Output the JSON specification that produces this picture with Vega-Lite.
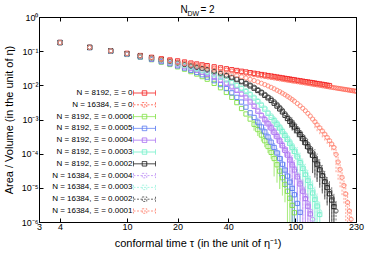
{
"$schema": "https://vega.github.io/schema/vega-lite/v6.json",
"width": 317, "height": 205,
"autosize": {"type": "none"},
"padding": {"left": 39, "top": 17, "right": 10, "bottom": 31},
"data": {"values": [
{"s":"a","t":4,"v":0.18},{"s":"a","t":6,"v":0.13},{"s":"a","t":8,"v":0.103},{"s":"a","t":10,"v":0.0865},{"s":"a","t":12,"v":0.0746},{"s":"a","t":14,"v":0.0661},{"s":"a","t":16,"v":0.06},{"s":"a","t":18,"v":0.0552},{"s":"a","t":20,"v":0.052},{"s":"a","t":22,"v":0.0482},{"s":"a","t":24,"v":0.0449},{"s":"a","t":26,"v":0.0422},{"s":"a","t":28,"v":0.0397},{"s":"a","t":30,"v":0.0376},{"s":"a","t":33,"v":0.0348},{"s":"a","t":36,"v":0.0325},{"s":"a","t":39,"v":0.0305},{"s":"a","t":42,"v":0.0287},{"s":"a","t":45,"v":0.0272},{"s":"a","t":48,"v":0.0258},{"s":"a","t":51,"v":0.0246},{"s":"a","t":54,"v":0.0235},{"s":"a","t":57,"v":0.0225},{"s":"a","t":60,"v":0.0216},{"s":"a","t":63,"v":0.0207},{"s":"a","t":66,"v":0.02},{"s":"a","t":69,"v":0.0193},{"s":"a","t":72,"v":0.0187},{"s":"a","t":75,"v":0.0181},{"s":"a","t":78,"v":0.0175},{"s":"a","t":81,"v":0.017},{"s":"a","t":84,"v":0.0165},{"s":"a","t":87,"v":0.016},{"s":"a","t":90,"v":0.0156},{"s":"a","t":93,"v":0.0152},{"s":"a","t":96,"v":0.0148},{"s":"a","t":99,"v":0.0145},{"s":"a","t":103,"v":0.014},{"s":"a","t":107,"v":0.0136},{"s":"a","t":111,"v":0.0132},{"s":"a","t":115,"v":0.0128},{"s":"a","t":119,"v":0.0125},{"s":"a","t":123,"v":0.0122},{"s":"a","t":127,"v":0.0119},{"s":"a","t":131,"v":0.0116},{"s":"a","t":135,"v":0.0113},{"s":"a","t":140,"v":0.011},{"s":"a","t":145,"v":0.0107},{"s":"a","t":150,"v":0.0104},{"s":"a","t":155,"v":0.0101},{"s":"a","t":160,"v":0.00984},
{"s":"b","t":4,"v":0.178},{"s":"b","t":6,"v":0.128},{"s":"b","t":8,"v":0.102},{"s":"b","t":10,"v":0.0855},{"s":"b","t":12,"v":0.0738},{"s":"b","t":14,"v":0.0653},{"s":"b","t":16,"v":0.0586},{"s":"b","t":18,"v":0.0534},{"s":"b","t":20,"v":0.0485},{"s":"b","t":22,"v":0.045},{"s":"b","t":24,"v":0.0419},{"s":"b","t":26,"v":0.0394},{"s":"b","t":28,"v":0.0371},{"s":"b","t":30,"v":0.0347},{"s":"b","t":33,"v":0.0318},{"s":"b","t":36,"v":0.0296},{"s":"b","t":39,"v":0.0278},{"s":"b","t":42,"v":0.0262},{"s":"b","t":45,"v":0.0248},{"s":"b","t":48,"v":0.0236},{"s":"b","t":51,"v":0.0224},{"s":"b","t":54,"v":0.0214},{"s":"b","t":57,"v":0.0205},{"s":"b","t":60,"v":0.0197},{"s":"b","t":63,"v":0.0189},{"s":"b","t":66,"v":0.0182},{"s":"b","t":69,"v":0.0176},{"s":"b","t":72,"v":0.017},{"s":"b","t":75,"v":0.0165},{"s":"b","t":78,"v":0.016},{"s":"b","t":81,"v":0.0155},{"s":"b","t":84,"v":0.015},{"s":"b","t":87,"v":0.0146},{"s":"b","t":90,"v":0.0142},{"s":"b","t":93,"v":0.0139},{"s":"b","t":96,"v":0.0135},{"s":"b","t":99,"v":0.0132},{"s":"b","t":103,"v":0.0128},{"s":"b","t":107,"v":0.0124},{"s":"b","t":111,"v":0.012},{"s":"b","t":115,"v":0.0117},{"s":"b","t":119,"v":0.0114},{"s":"b","t":123,"v":0.0111},{"s":"b","t":127,"v":0.0108},{"s":"b","t":131,"v":0.0105},{"s":"b","t":135,"v":0.0103},{"s":"b","t":140,"v":0.01},{"s":"b","t":145,"v":0.00973},{"s":"b","t":150,"v":0.00946},{"s":"b","t":155,"v":0.0092},{"s":"b","t":160,"v":0.00897},{"s":"b","t":165,"v":0.00877},{"s":"b","t":170,"v":0.00855},{"s":"b","t":175,"v":0.00836},{"s":"b","t":180,"v":0.00817},{"s":"b","t":185,"v":0.008},{"s":"b","t":190,"v":0.00783},{"s":"b","t":195,"v":0.00767},{"s":"b","t":200,"v":0.00752},{"s":"b","t":205,"v":0.00737},{"s":"b","t":210,"v":0.00723},{"s":"b","t":215,"v":0.0071},{"s":"b","t":220,"v":0.00697},{"s":"b","t":225,"v":0.00684},{"s":"b","t":230,"v":0.00671},
{"s":"c","t":4,"v":0.178},{"s":"c","t":6,"v":0.127},{"s":"c","t":8,"v":0.0984},{"s":"c","t":10,"v":0.08},{"s":"c","t":12,"v":0.0665},{"s":"c","t":14,"v":0.0562},{"s":"c","t":16,"v":0.0476},{"s":"c","t":18,"v":0.0407},{"s":"c","t":20,"v":0.0348},{"s":"c","t":22,"v":0.0297},{"s":"c","t":24,"v":0.0252},{"s":"c","t":26,"v":0.0214},{"s":"c","t":28,"v":0.018},{"s":"c","t":30,"v":0.0151},{"s":"c","t":33,"v":0.0114},{"s":"c","t":36,"v":0.00851},{"s":"c","t":39,"v":0.00619},{"s":"c","t":42,"v":0.00445},{"s":"c","t":45,"v":0.00312},{"s":"c","t":48,"v":0.0021},{"s":"c","t":51,"v":0.00145},{"s":"c","t":54,"v":0.00103},
{"s":"c","t":57,"v":7.24e-4,"lo":4.71e-4,"hi":9.77e-4},{"s":"c","t":60,"v":5.06e-4,"lo":3.29e-4,"hi":6.83e-4},{"s":"c","t":63,"v":3.5e-4,"lo":2.28e-4,"hi":4.73e-4},{"s":"c","t":66,"v":2.39e-4,"lo":1.55e-4,"hi":3.23e-4},{"s":"c","t":69,"v":1.62e-4,"lo":1.05e-4,"hi":2.19e-4},{"s":"c","t":72,"v":1.09e-4,"lo":7.09e-5,"hi":1.47e-4},{"s":"c","t":75,"v":7.21e-5,"lo":2.16e-5,"hi":1.23e-4},{"s":"c","t":78,"v":4.73e-5,"lo":1.42e-5,"hi":8.04e-5},{"s":"c","t":81,"v":3.08e-5,"lo":9.24e-6,"hi":5.24e-5},{"s":"c","t":84,"v":1.98e-5,"lo":5.94e-6,"hi":3.37e-5},{"s":"c","t":87,"v":1.26e-5,"lo":3.78e-6,"hi":2.14e-5},{"s":"c","t":90,"v":7.94e-6,"lo":6.35e-7,"hi":1.59e-5},{"s":"c","t":93,"v":4.97e-6,"lo":3.98e-7,"hi":9.94e-6},{"s":"c","t":96,"v":3.06e-6,"lo":2.45e-7,"hi":6.12e-6},{"s":"c","t":99,"v":1.87e-6,"lo":1.5e-7,"hi":3.74e-6},
{"s":"d","t":4,"v":0.178},{"s":"d","t":6,"v":0.127},{"s":"d","t":8,"v":0.0993},{"s":"d","t":10,"v":0.0809},{"s":"d","t":12,"v":0.0678},{"s":"d","t":14,"v":0.0577},{"s":"d","t":16,"v":0.0494},{"s":"d","t":18,"v":0.0427},{"s":"d","t":20,"v":0.037},{"s":"d","t":22,"v":0.032},{"s":"d","t":24,"v":0.0275},{"s":"d","t":26,"v":0.0238},{"s":"d","t":28,"v":0.0204},{"s":"d","t":30,"v":0.0174},{"s":"d","t":33,"v":0.0137},{"s":"d","t":36,"v":0.0105},{"s":"d","t":39,"v":0.00805},{"s":"d","t":42,"v":0.00603},{"s":"d","t":45,"v":0.00445},{"s":"d","t":48,"v":0.00324},{"s":"d","t":51,"v":0.0023},{"s":"d","t":54,"v":0.00157},{"s":"d","t":57,"v":0.00115},
{"s":"d","t":60,"v":8.36e-4,"lo":5.43e-4,"hi":1.13e-3},{"s":"d","t":63,"v":6.05e-4,"lo":3.93e-4,"hi":8.17e-4},{"s":"d","t":66,"v":4.33e-4,"lo":2.81e-4,"hi":5.85e-4},{"s":"d","t":69,"v":3.08e-4,"lo":2.0e-4,"hi":4.16e-4},{"s":"d","t":72,"v":2.17e-4,"lo":1.41e-4,"hi":2.93e-4},{"s":"d","t":75,"v":1.52e-4,"lo":9.88e-5,"hi":2.05e-4},{"s":"d","t":78,"v":1.05e-4,"lo":6.83e-5,"hi":1.42e-4},{"s":"d","t":81,"v":7.19e-5,"lo":2.16e-5,"hi":1.22e-4},{"s":"d","t":84,"v":4.9e-5,"lo":1.47e-5,"hi":8.33e-5},{"s":"d","t":87,"v":3.31e-5,"lo":9.93e-6,"hi":5.63e-5},{"s":"d","t":90,"v":2.21e-5,"lo":6.63e-6,"hi":3.76e-5},{"s":"d","t":93,"v":1.47e-5,"lo":4.41e-6,"hi":2.5e-5},{"s":"d","t":96,"v":9.64e-6,"lo":7.71e-7,"hi":1.93e-5},{"s":"d","t":99,"v":6.27e-6,"lo":5.02e-7,"hi":1.25e-5},{"s":"d","t":103,"v":3.5e-6,"lo":2.8e-7,"hi":7.0e-6},{"s":"d","t":107,"v":1.92e-6,"lo":1.54e-7,"hi":3.84e-6},
{"s":"e","t":4,"v":0.179},{"s":"e","t":6,"v":0.128},{"s":"e","t":8,"v":0.1},{"s":"e","t":10,"v":0.0824},{"s":"e","t":12,"v":0.0695},{"s":"e","t":14,"v":0.0597},{"s":"e","t":16,"v":0.0519},{"s":"e","t":18,"v":0.0454},{"s":"e","t":20,"v":0.0399},{"s":"e","t":22,"v":0.0352},{"s":"e","t":24,"v":0.031},{"s":"e","t":26,"v":0.0274},{"s":"e","t":28,"v":0.024},{"s":"e","t":30,"v":0.0211},{"s":"e","t":33,"v":0.0173},{"s":"e","t":36,"v":0.014},{"s":"e","t":39,"v":0.0113},{"s":"e","t":42,"v":0.009},{"s":"e","t":45,"v":0.00711},{"s":"e","t":48,"v":0.00553},{"s":"e","t":51,"v":0.00427},{"s":"e","t":54,"v":0.00324},{"s":"e","t":57,"v":0.00243},{"s":"e","t":60,"v":0.00175},{"s":"e","t":63,"v":0.00129},
{"s":"e","t":66,"v":9.86e-4,"lo":6.41e-4,"hi":1.33e-3},{"s":"e","t":69,"v":7.48e-4,"lo":4.86e-4,"hi":1.01e-3},{"s":"e","t":72,"v":5.65e-4,"lo":3.67e-4,"hi":7.63e-4},{"s":"e","t":75,"v":4.24e-4,"lo":2.76e-4,"hi":5.72e-4},{"s":"e","t":78,"v":3.16e-4,"lo":2.05e-4,"hi":4.27e-4},{"s":"e","t":81,"v":2.33e-4,"lo":1.51e-4,"hi":3.15e-4},{"s":"e","t":84,"v":1.71e-4,"lo":1.11e-4,"hi":2.31e-4},{"s":"e","t":87,"v":1.25e-4,"lo":8.13e-5,"hi":1.69e-4},{"s":"e","t":90,"v":9.08e-5,"lo":2.72e-5,"hi":1.54e-4},{"s":"e","t":93,"v":6.55e-5,"lo":1.97e-5,"hi":1.11e-4},{"s":"e","t":96,"v":4.69e-5,"lo":1.41e-5,"hi":7.97e-5},{"s":"e","t":99,"v":3.33e-5,"lo":9.99e-6,"hi":5.66e-5},{"s":"e","t":103,"v":2.09e-5,"lo":6.27e-6,"hi":3.55e-5},{"s":"e","t":107,"v":1.3e-5,"lo":3.9e-6,"hi":2.21e-5},{"s":"e","t":111,"v":8.0e-6,"lo":6.4e-7,"hi":1.6e-5},{"s":"e","t":115,"v":4.86e-6,"lo":3.89e-7,"hi":9.72e-6},{"s":"e","t":119,"v":2.91e-6,"lo":2.33e-7,"hi":5.82e-6},{"s":"e","t":123,"v":1.73e-6,"lo":1.38e-7,"hi":3.46e-6},
{"s":"f","t":4,"v":0.179},{"s":"f","t":6,"v":0.129},{"s":"f","t":8,"v":0.101},{"s":"f","t":10,"v":0.0834},{"s":"f","t":12,"v":0.0708},{"s":"f","t":14,"v":0.0614},{"s":"f","t":16,"v":0.0536},{"s":"f","t":18,"v":0.0474},{"s":"f","t":20,"v":0.0423},{"s":"f","t":22,"v":0.0377},{"s":"f","t":24,"v":0.0337},{"s":"f","t":26,"v":0.0302},{"s":"f","t":28,"v":0.027},{"s":"f","t":30,"v":0.0242},{"s":"f","t":33,"v":0.0204},{"s":"f","t":36,"v":0.0172},{"s":"f","t":39,"v":0.0144},{"s":"f","t":42,"v":0.012},{"s":"f","t":45,"v":0.00986},{"s":"f","t":48,"v":0.00809},{"s":"f","t":51,"v":0.00659},{"s":"f","t":54,"v":0.0053},{"s":"f","t":57,"v":0.00424},{"s":"f","t":60,"v":0.00334},{"s":"f","t":63,"v":0.00261},{"s":"f","t":66,"v":0.00202},{"s":"f","t":69,"v":0.00152},{"s":"f","t":72,"v":0.00116},
{"s":"f","t":75,"v":9.18e-4,"lo":5.97e-4,"hi":1.24e-3},{"s":"f","t":78,"v":7.21e-4,"lo":4.69e-4,"hi":9.73e-4},{"s":"f","t":81,"v":5.64e-4,"lo":3.67e-4,"hi":7.61e-4},{"s":"f","t":84,"v":4.4e-4,"lo":2.86e-4,"hi":5.94e-4},{"s":"f","t":87,"v":3.4e-4,"lo":2.21e-4,"hi":4.59e-4},{"s":"f","t":90,"v":2.63e-4,"lo":1.71e-4,"hi":3.55e-4},{"s":"f","t":93,"v":2.02e-4,"lo":1.31e-4,"hi":2.73e-4},{"s":"f","t":96,"v":1.54e-4,"lo":1.0e-4,"hi":2.08e-4},{"s":"f","t":99,"v":1.17e-4,"lo":7.61e-5,"hi":1.58e-4},{"s":"f","t":103,"v":8.05e-5,"lo":2.42e-5,"hi":1.37e-4},{"s":"f","t":107,"v":5.48e-5,"lo":1.64e-5,"hi":9.32e-5},{"s":"f","t":111,"v":3.71e-5,"lo":1.11e-5,"hi":6.31e-5},{"s":"f","t":115,"v":2.48e-5,"lo":7.44e-6,"hi":4.22e-5},{"s":"f","t":119,"v":1.65e-5,"lo":4.95e-6,"hi":2.81e-5},{"s":"f","t":123,"v":1.09e-5,"lo":3.27e-6,"hi":1.85e-5},{"s":"f","t":127,"v":7.08e-6,"lo":5.66e-7,"hi":1.42e-5},{"s":"f","t":131,"v":4.58e-6,"lo":3.66e-7,"hi":9.16e-6},{"s":"f","t":135,"v":2.93e-6,"lo":2.34e-7,"hi":5.86e-6},{"s":"f","t":140,"v":1.66e-6,"lo":1.33e-7,"hi":3.32e-6},
{"s":"g","t":4,"v":0.179},{"s":"g","t":6,"v":0.129},{"s":"g","t":8,"v":0.102},{"s":"g","t":10,"v":0.0847},{"s":"g","t":12,"v":0.0723},{"s":"g","t":14,"v":0.0632},{"s":"g","t":16,"v":0.0558},{"s":"g","t":18,"v":0.05},{"s":"g","t":20,"v":0.0451},{"s":"g","t":22,"v":0.0409},{"s":"g","t":24,"v":0.0372},{"s":"g","t":26,"v":0.034},{"s":"g","t":28,"v":0.031},{"s":"g","t":30,"v":0.0284},{"s":"g","t":33,"v":0.025},{"s":"g","t":36,"v":0.0219},{"s":"g","t":39,"v":0.0192},{"s":"g","t":42,"v":0.0168},{"s":"g","t":45,"v":0.0147},{"s":"g","t":48,"v":0.0128},{"s":"g","t":51,"v":0.0111},{"s":"g","t":54,"v":0.00962},{"s":"g","t":57,"v":0.00826},{"s":"g","t":60,"v":0.00706},{"s":"g","t":63,"v":0.00603},{"s":"g","t":66,"v":0.00511},{"s":"g","t":69,"v":0.00431},{"s":"g","t":72,"v":0.00361},{"s":"g","t":75,"v":0.003},{"s":"g","t":78,"v":0.00248},{"s":"g","t":81,"v":0.00204},{"s":"g","t":84,"v":0.00167},{"s":"g","t":87,"v":0.00133},{"s":"g","t":90,"v":0.00107},
{"s":"g","t":93,"v":8.79e-4,"lo":5.71e-4,"hi":1.19e-3},{"s":"g","t":96,"v":7.31e-4,"lo":4.75e-4,"hi":9.87e-4},{"s":"g","t":99,"v":6.04e-4,"lo":3.93e-4,"hi":8.15e-4},{"s":"g","t":103,"v":4.68e-4,"lo":3.04e-4,"hi":6.32e-4},{"s":"g","t":107,"v":3.61e-4,"lo":2.35e-4,"hi":4.87e-4},{"s":"g","t":111,"v":2.75e-4,"lo":1.79e-4,"hi":3.71e-4},{"s":"g","t":115,"v":2.1e-4,"lo":1.37e-4,"hi":2.84e-4},{"s":"g","t":119,"v":1.59e-4,"lo":1.03e-4,"hi":2.15e-4},{"s":"g","t":123,"v":1.2e-4,"lo":7.8e-5,"hi":1.62e-4},{"s":"g","t":127,"v":8.99e-5,"lo":2.7e-5,"hi":1.53e-4},{"s":"g","t":131,"v":6.68e-5,"lo":2.0e-5,"hi":1.14e-4},{"s":"g","t":135,"v":4.94e-5,"lo":1.48e-5,"hi":8.4e-5},{"s":"g","t":140,"v":3.38e-5,"lo":1.01e-5,"hi":5.75e-5},{"s":"g","t":145,"v":2.29e-5,"lo":6.87e-6,"hi":3.89e-5},{"s":"g","t":150,"v":1.53e-5,"lo":4.59e-6,"hi":2.6e-5},{"s":"g","t":155,"v":1.02e-5,"lo":3.06e-6,"hi":1.73e-5},{"s":"g","t":160,"v":6.7e-6,"lo":5.36e-7,"hi":1.34e-5},{"s":"g","t":165,"v":4.39e-6,"lo":3.51e-7,"hi":8.78e-6},{"s":"g","t":170,"v":2.84e-6,"lo":2.27e-7,"hi":5.68e-6},
{"s":"h","t":4,"v":0.179},{"s":"h","t":6,"v":0.128},{"s":"h","t":8,"v":0.1},{"s":"h","t":10,"v":0.0824},{"s":"h","t":12,"v":0.0695},{"s":"h","t":14,"v":0.0597},{"s":"h","t":16,"v":0.0519},{"s":"h","t":18,"v":0.0454},{"s":"h","t":20,"v":0.0399},{"s":"h","t":22,"v":0.0352},{"s":"h","t":24,"v":0.031},{"s":"h","t":26,"v":0.0274},{"s":"h","t":28,"v":0.024},{"s":"h","t":30,"v":0.0218},{"s":"h","t":33,"v":0.0179},{"s":"h","t":36,"v":0.0145},{"s":"h","t":39,"v":0.0117},{"s":"h","t":42,"v":0.00932},{"s":"h","t":45,"v":0.00736},{"s":"h","t":48,"v":0.00572},{"s":"h","t":51,"v":0.00457},{"s":"h","t":54,"v":0.00347},{"s":"h","t":57,"v":0.0026},{"s":"h","t":60,"v":0.00187},{"s":"h","t":63,"v":0.00138},{"s":"h","t":66,"v":0.00106},
{"s":"h","t":69,"v":8.0e-4,"lo":5.2e-4,"hi":1.08e-3},{"s":"h","t":72,"v":6.33e-4,"lo":4.11e-4,"hi":8.55e-4},{"s":"h","t":75,"v":4.75e-4,"lo":3.09e-4,"hi":6.41e-4},{"s":"h","t":78,"v":3.54e-4,"lo":2.3e-4,"hi":4.78e-4},{"s":"h","t":81,"v":2.61e-4,"lo":1.7e-4,"hi":3.52e-4},{"s":"h","t":84,"v":1.92e-4,"lo":1.25e-4,"hi":2.59e-4},{"s":"h","t":87,"v":1.4e-4,"lo":9.1e-5,"hi":1.89e-4},{"s":"h","t":90,"v":1.02e-4,"lo":6.63e-5,"hi":1.38e-4},{"s":"h","t":93,"v":7.53e-5,"lo":2.26e-5,"hi":1.28e-4},{"s":"h","t":96,"v":5.39e-5,"lo":1.62e-5,"hi":9.16e-5},{"s":"h","t":99,"v":3.83e-5,"lo":1.15e-5,"hi":6.51e-5},{"s":"h","t":103,"v":2.4e-5,"lo":7.2e-6,"hi":4.08e-5},{"s":"h","t":107,"v":1.5e-5,"lo":4.5e-6,"hi":2.55e-5},{"s":"h","t":111,"v":9.2e-6,"lo":7.36e-7,"hi":1.84e-5},{"s":"h","t":115,"v":5.83e-6,"lo":4.66e-7,"hi":1.17e-5},{"s":"h","t":119,"v":3.49e-6,"lo":2.79e-7,"hi":6.98e-6},{"s":"h","t":123,"v":2.08e-6,"lo":1.66e-7,"hi":4.16e-6},{"s":"h","t":127,"v":1.2e-6,"lo":9.6e-8,"hi":2.4e-6},
{"s":"i","t":4,"v":0.179},{"s":"i","t":6,"v":0.129},{"s":"i","t":8,"v":0.101},{"s":"i","t":10,"v":0.0834},{"s":"i","t":12,"v":0.0708},{"s":"i","t":14,"v":0.0614},{"s":"i","t":16,"v":0.0536},{"s":"i","t":18,"v":0.0474},{"s":"i","t":20,"v":0.0423},{"s":"i","t":22,"v":0.0377},{"s":"i","t":24,"v":0.0337},{"s":"i","t":26,"v":0.0302},{"s":"i","t":28,"v":0.027},{"s":"i","t":30,"v":0.025},{"s":"i","t":33,"v":0.0211},{"s":"i","t":36,"v":0.0178},{"s":"i","t":39,"v":0.0149},{"s":"i","t":42,"v":0.0124},{"s":"i","t":45,"v":0.0102},{"s":"i","t":48,"v":0.00837},{"s":"i","t":51,"v":0.00705},{"s":"i","t":54,"v":0.00567},{"s":"i","t":57,"v":0.00454},{"s":"i","t":60,"v":0.00357},{"s":"i","t":63,"v":0.00279},{"s":"i","t":66,"v":0.00216},{"s":"i","t":69,"v":0.00163},{"s":"i","t":72,"v":0.0013},{"s":"i","t":75,"v":0.00103},
{"s":"i","t":78,"v":8.08e-4,"lo":5.25e-4,"hi":1.09e-3},{"s":"i","t":81,"v":6.32e-4,"lo":4.11e-4,"hi":8.53e-4},{"s":"i","t":84,"v":4.93e-4,"lo":3.2e-4,"hi":6.66e-4},{"s":"i","t":87,"v":3.81e-4,"lo":2.48e-4,"hi":5.14e-4},{"s":"i","t":90,"v":2.95e-4,"lo":1.92e-4,"hi":3.98e-4},{"s":"i","t":93,"v":2.32e-4,"lo":1.51e-4,"hi":3.13e-4},{"s":"i","t":96,"v":1.77e-4,"lo":1.15e-4,"hi":2.39e-4},{"s":"i","t":99,"v":1.35e-4,"lo":8.78e-5,"hi":1.82e-4},{"s":"i","t":103,"v":9.26e-5,"lo":2.78e-5,"hi":1.57e-4},{"s":"i","t":107,"v":6.3e-5,"lo":1.89e-5,"hi":1.07e-4},{"s":"i","t":111,"v":4.27e-5,"lo":1.28e-5,"hi":7.26e-5},{"s":"i","t":115,"v":2.98e-5,"lo":8.94e-6,"hi":5.07e-5},{"s":"i","t":119,"v":1.98e-5,"lo":5.94e-6,"hi":3.37e-5},{"s":"i","t":123,"v":1.31e-5,"lo":3.93e-6,"hi":2.23e-5},{"s":"i","t":127,"v":8.5e-6,"lo":6.8e-7,"hi":1.7e-5},{"s":"i","t":131,"v":5.5e-6,"lo":4.4e-7,"hi":1.1e-5},{"s":"i","t":135,"v":3.52e-6,"lo":2.82e-7,"hi":7.04e-6},{"s":"i","t":140,"v":1.99e-6,"lo":1.59e-7,"hi":3.98e-6},
{"s":"j","t":4,"v":0.179},{"s":"j","t":6,"v":0.129},{"s":"j","t":8,"v":0.102},{"s":"j","t":10,"v":0.0847},{"s":"j","t":12,"v":0.0723},{"s":"j","t":14,"v":0.0632},{"s":"j","t":16,"v":0.0558},{"s":"j","t":18,"v":0.05},{"s":"j","t":20,"v":0.0451},{"s":"j","t":22,"v":0.0409},{"s":"j","t":24,"v":0.0372},{"s":"j","t":26,"v":0.034},{"s":"j","t":28,"v":0.031},{"s":"j","t":30,"v":0.0294},{"s":"j","t":33,"v":0.0259},{"s":"j","t":36,"v":0.0227},{"s":"j","t":39,"v":0.0199},{"s":"j","t":42,"v":0.0174},{"s":"j","t":45,"v":0.0152},{"s":"j","t":48,"v":0.0132},{"s":"j","t":51,"v":0.0119},{"s":"j","t":54,"v":0.0103},{"s":"j","t":57,"v":0.00884},{"s":"j","t":60,"v":0.00755},{"s":"j","t":63,"v":0.00645},{"s":"j","t":66,"v":0.00547},{"s":"j","t":69,"v":0.00461},{"s":"j","t":72,"v":0.00404},{"s":"j","t":75,"v":0.00336},{"s":"j","t":78,"v":0.00278},{"s":"j","t":81,"v":0.00228},{"s":"j","t":84,"v":0.00187},{"s":"j","t":87,"v":0.00149},{"s":"j","t":90,"v":0.0012},{"s":"j","t":93,"v":0.00101},
{"s":"j","t":96,"v":8.41e-4,"lo":5.47e-4,"hi":1.14e-3},{"s":"j","t":99,"v":6.95e-4,"lo":4.52e-4,"hi":9.38e-4},{"s":"j","t":103,"v":5.38e-4,"lo":3.5e-4,"hi":7.26e-4},{"s":"j","t":107,"v":4.15e-4,"lo":2.7e-4,"hi":5.6e-4},{"s":"j","t":111,"v":3.16e-4,"lo":2.05e-4,"hi":4.27e-4},{"s":"j","t":115,"v":2.52e-4,"lo":1.64e-4,"hi":3.4e-4},{"s":"j","t":119,"v":1.91e-4,"lo":1.24e-4,"hi":2.58e-4},{"s":"j","t":123,"v":1.44e-4,"lo":9.36e-5,"hi":1.94e-4},{"s":"j","t":127,"v":1.08e-4,"lo":7.02e-5,"hi":1.46e-4},{"s":"j","t":131,"v":8.02e-5,"lo":2.41e-5,"hi":1.36e-4},{"s":"j","t":135,"v":5.93e-5,"lo":1.78e-5,"hi":1.01e-4},{"s":"j","t":140,"v":4.06e-5,"lo":1.22e-5,"hi":6.9e-5},{"s":"j","t":145,"v":2.75e-5,"lo":8.25e-6,"hi":4.68e-5},{"s":"j","t":150,"v":1.84e-5,"lo":5.52e-6,"hi":3.13e-5},{"s":"j","t":155,"v":1.22e-5,"lo":3.66e-6,"hi":2.07e-5},{"s":"j","t":160,"v":8.0e-6,"lo":6.4e-7,"hi":1.6e-5},{"s":"j","t":165,"v":5.3e-6,"lo":4.24e-7,"hi":1.06e-5},{"s":"j","t":170,"v":3.4e-6,"lo":2.72e-7,"hi":6.8e-6},{"s":"j","t":175,"v":2.1e-6,"lo":1.68e-7,"hi":4.2e-6},
{"s":"k","t":4,"v":0.178},{"s":"k","t":6,"v":0.128},{"s":"k","t":8,"v":0.102},{"s":"k","t":10,"v":0.0847},{"s":"k","t":12,"v":0.073},{"s":"k","t":14,"v":0.0641},{"s":"k","t":16,"v":0.0571},{"s":"k","t":18,"v":0.0517},{"s":"k","t":20,"v":0.0465},{"s":"k","t":22,"v":0.0428},{"s":"k","t":24,"v":0.0394},{"s":"k","t":26,"v":0.0366},{"s":"k","t":28,"v":0.034},{"s":"k","t":30,"v":0.0314},{"s":"k","t":33,"v":0.0282},{"s":"k","t":36,"v":0.0256},{"s":"k","t":39,"v":0.0234},{"s":"k","t":42,"v":0.0214},{"s":"k","t":45,"v":0.0195},{"s":"k","t":48,"v":0.0179},{"s":"k","t":51,"v":0.0164},{"s":"k","t":54,"v":0.015},{"s":"k","t":57,"v":0.0138},{"s":"k","t":60,"v":0.0126},{"s":"k","t":63,"v":0.0115},{"s":"k","t":66,"v":0.0105},{"s":"k","t":69,"v":0.00959},{"s":"k","t":72,"v":0.00873},{"s":"k","t":75,"v":0.00793},{"s":"k","t":78,"v":0.00718},{"s":"k","t":81,"v":0.00653},{"s":"k","t":84,"v":0.00589},{"s":"k","t":87,"v":0.00531},{"s":"k","t":90,"v":0.00478},{"s":"k","t":93,"v":0.0043},{"s":"k","t":96,"v":0.00385},{"s":"k","t":99,"v":0.00343},{"s":"k","t":103,"v":0.00294},{"s":"k","t":107,"v":0.00251},{"s":"k","t":111,"v":0.00213},{"s":"k","t":115,"v":0.0018},{"s":"k","t":119,"v":0.00151},{"s":"k","t":123,"v":0.00126},{"s":"k","t":127,"v":0.00103},
{"s":"k","t":131,"v":8.57e-4,"lo":5.57e-4,"hi":1.16e-3},{"s":"k","t":135,"v":6.98e-4,"lo":4.54e-4,"hi":9.42e-4},{"s":"k","t":140,"v":5.69e-4,"lo":3.7e-4,"hi":7.68e-4},{"s":"k","t":145,"v":4.61e-4,"lo":3.0e-4,"hi":6.22e-4},{"s":"k","t":150,"v":3.72e-4,"lo":2.42e-4,"hi":5.02e-4},{"s":"k","t":155,"v":2.99e-4,"lo":1.94e-4,"hi":4.04e-4},{"s":"k","t":160,"v":2.4e-4,"lo":1.56e-4,"hi":3.24e-4},{"s":"k","t":165,"v":1.92e-4,"lo":1.25e-4,"hi":2.59e-4},{"s":"k","t":170,"v":1.52e-4,"lo":9.88e-5,"hi":2.05e-4},{"s":"k","t":175,"v":9.55e-5,"lo":2.87e-5,"hi":1.62e-4},{"s":"k","t":180,"v":5.75e-5,"lo":1.73e-5,"hi":9.78e-5},{"s":"k","t":185,"v":3.47e-5,"lo":1.04e-5,"hi":5.9e-5},{"s":"k","t":190,"v":2.04e-5,"lo":6.12e-6,"hi":3.47e-5},{"s":"k","t":195,"v":1.17e-5,"lo":3.51e-6,"hi":1.99e-5},{"s":"k","t":200,"v":6.61e-6,"lo":5.29e-7,"hi":1.32e-5},{"s":"k","t":205,"v":3.72e-6,"lo":2.98e-7,"hi":7.44e-6},{"s":"k","t":210,"v":2.09e-6,"lo":1.67e-7,"hi":4.18e-6},{"s":"k","t":215,"v":1.2e-6,"lo":9.6e-8,"hi":2.4e-6}
]},
"layer": [
{
"transform": [{"filter": "isValid(datum.lo)"}],
"mark": {"type": "rule", "strokeWidth": 0.8, "clip": true},
"encoding": {
"x": {"field": "t", "type": "quantitative", "scale": {"type": "log", "domain": [3, 230], "nice": false}, "axis": {"values": [3, 4, 10, 20, 40, 100, 230], "format": "d", "title": "conformal time τ (in the unit of η⁻¹)", "labelFlush": false, "labelOverlap": false, "labelPadding": 4, "titlePadding": 6}},
"y": {"field": "lo", "type": "quantitative", "scale": {"type": "log", "domain": [1e-6, 1], "nice": false}, "axis": {"values": [1e-6, 1e-5, 1e-4, 1e-3, 0.01, 0.1, 1], "labelExpr": "'10' + ['⁰','⁻¹','⁻²','⁻³','⁻⁴','⁻⁵','⁻⁶'][round(-log(datum.value)/LN10)]", "title": "Area / Volume (in the unit of η)", "labelOverlap": false, "labelPadding": 5, "titlePadding": 7}},
"y2": {"field": "hi"},
"color": {"field": "s", "type": "nominal", "scale": {"domain": ["a","b","c","d","e","f","g","h","i","j","k"], "range": ["#f41e1e","#ff6a5a","#80e244","#5a7af2","#a86cf2","#6ef0c8","#151515","#c49af6","#a2f5e0","#5a5a5a","#ff8a78"]}, "legend": {"orient": "none", "legendX": 101.5, "legendY": 72, "title": null, "direction": "vertical", "symbolType": "M-3.67,0H3.67M-3.67,-0.83V0.83M3.67,-0.83V0.83M-0.75,-0.75H0.75V0.75H-0.75Z", "symbolSize": 36, "symbolStrokeWidth": 1, "symbolFillColor": "transparent", "labelFont": "Liberation Sans", "labelFontSize": 8, "labelColor": "black", "labelAlign": "right", "labelOffset": -16, "rowPadding": 1.8, "padding": 0, "labelExpr": "{'a':'N = 8192, Ξ = 0','b':'N = 16384, Ξ = 0','c':'N = 8192, Ξ = 0.0006','d':'N = 8192, Ξ = 0.0005','e':'N = 8192, Ξ = 0.0004','f':'N = 8192, Ξ = 0.0003','g':'N = 8192, Ξ = 0.0002','h':'N = 16384, Ξ = 0.0004','i':'N = 16384, Ξ = 0.0003','j':'N = 16384, Ξ = 0.0002','k':'N = 16384, Ξ = 0.0001'}[datum.label]"}},
"strokeDash": {"field": "s", "type": "nominal", "scale": {"domain": ["a","b","c","d","e","f","g","h","i","j","k"], "range": [[1,0],[2,1.5],[1,0],[1,0],[1,0],[1,0],[1,0],[2,1.5],[2,1.5],[2,1.5],[2,1.5]]}, "legend": {"orient": "none", "legendX": 101.5, "legendY": 72, "title": null, "direction": "vertical", "symbolType": "M-3.67,0H3.67M-3.67,-0.83V0.83M3.67,-0.83V0.83M-0.75,-0.75H0.75V0.75H-0.75Z", "symbolSize": 36, "symbolStrokeWidth": 1, "symbolFillColor": "transparent", "labelFont": "Liberation Sans", "labelFontSize": 8, "labelColor": "black", "labelAlign": "right", "labelOffset": -16, "rowPadding": 1.8, "padding": 0, "labelExpr": "{'a':'N = 8192, Ξ = 0','b':'N = 16384, Ξ = 0','c':'N = 8192, Ξ = 0.0006','d':'N = 8192, Ξ = 0.0005','e':'N = 8192, Ξ = 0.0004','f':'N = 8192, Ξ = 0.0003','g':'N = 8192, Ξ = 0.0002','h':'N = 16384, Ξ = 0.0004','i':'N = 16384, Ξ = 0.0003','j':'N = 16384, Ξ = 0.0002','k':'N = 16384, Ξ = 0.0001'}[datum.label]"}}
}
},
{
"transform": [{"filter": "indexof(['a','c','d','e','f','g'], datum.s) >= 0"}],
"mark": {"type": "point", "shape": "square", "filled": false, "size": 18, "strokeWidth": 1, "opacity": 0.9, "clip": true},
"encoding": {
"x": {"field": "t", "type": "quantitative", "axis": {"orient": "top", "values": [3, 4, 10, 20, 40, 100, 230], "labels": false, "title": "DW", "titleFontSize": 7, "titleX": 148, "titleY": -2, "titleAlign": "left", "titleBaseline": "alphabetic", "titleAngle": 0}},
"y": {"field": "v", "type": "quantitative", "axis": {"orient": "right", "values": [1e-6, 1e-5, 1e-4, 1e-3, 0.01, 0.1, 1], "labels": false, "title": "= 2", "titleFontSize": 10, "titleX": -156, "titleY": -5, "titleAlign": "left", "titleBaseline": "alphabetic", "titleAngle": 0}},
"color": {"field": "s", "type": "nominal", "legend": {"orient": "none", "legendX": 101.5, "legendY": 72, "title": null, "direction": "vertical", "symbolType": "M-3.67,0H3.67M-3.67,-0.83V0.83M3.67,-0.83V0.83M-0.75,-0.75H0.75V0.75H-0.75Z", "symbolSize": 36, "symbolStrokeWidth": 1, "symbolFillColor": "transparent", "labelFont": "Liberation Sans", "labelFontSize": 8, "labelColor": "black", "labelAlign": "right", "labelOffset": -16, "rowPadding": 1.8, "padding": 0, "labelExpr": "{'a':'N = 8192, Ξ = 0','b':'N = 16384, Ξ = 0','c':'N = 8192, Ξ = 0.0006','d':'N = 8192, Ξ = 0.0005','e':'N = 8192, Ξ = 0.0004','f':'N = 8192, Ξ = 0.0003','g':'N = 8192, Ξ = 0.0002','h':'N = 16384, Ξ = 0.0004','i':'N = 16384, Ξ = 0.0003','j':'N = 16384, Ξ = 0.0002','k':'N = 16384, Ξ = 0.0001'}[datum.label]"}}
}
},
{
"transform": [{"filter": "indexof(['b','h','i','j','k'], datum.s) >= 0"}],
"mark": {"type": "point", "shape": "circle", "filled": false, "size": 18, "strokeWidth": 1, "opacity": 0.9, "clip": true},
"encoding": {
"x": {"field": "t", "type": "quantitative", "axis": {"orient": "top", "ticks": false, "labels": false, "domain": false, "title": "N", "titleFontSize": 10, "titleX": 141, "titleY": -5, "titleAlign": "left", "titleBaseline": "alphabetic", "titleAngle": 0}},
"y": {"field": "v", "type": "quantitative", "axis": null},
"color": {"field": "s", "type": "nominal", "legend": {"orient": "none", "legendX": 101.5, "legendY": 72, "title": null, "direction": "vertical", "symbolType": "M-3.67,0H3.67M-3.67,-0.83V0.83M3.67,-0.83V0.83M-0.75,-0.75H0.75V0.75H-0.75Z", "symbolSize": 36, "symbolStrokeWidth": 1, "symbolFillColor": "transparent", "labelFont": "Liberation Sans", "labelFontSize": 8, "labelColor": "black", "labelAlign": "right", "labelOffset": -16, "rowPadding": 1.8, "padding": 0, "labelExpr": "{'a':'N = 8192, Ξ = 0','b':'N = 16384, Ξ = 0','c':'N = 8192, Ξ = 0.0006','d':'N = 8192, Ξ = 0.0005','e':'N = 8192, Ξ = 0.0004','f':'N = 8192, Ξ = 0.0003','g':'N = 8192, Ξ = 0.0002','h':'N = 16384, Ξ = 0.0004','i':'N = 16384, Ξ = 0.0003','j':'N = 16384, Ξ = 0.0002','k':'N = 16384, Ξ = 0.0001'}[datum.label]"}}
}
}
],
"resolve": {"axis": {"x": "independent", "y": "independent"}},
"config": {
"view": {"stroke": "black", "strokeWidth": 1},
"font": "Liberation Sans",
"axis": {"labelFont": "Liberation Sans", "labelFontSize": 9, "labelColor": "black", "titleFont": "Liberation Sans", "titleFontSize": 11, "titleFontWeight": "normal", "titleColor": "black", "domainColor": "black", "tickColor": "black", "grid": false, "tickSize": -4}
}
}
